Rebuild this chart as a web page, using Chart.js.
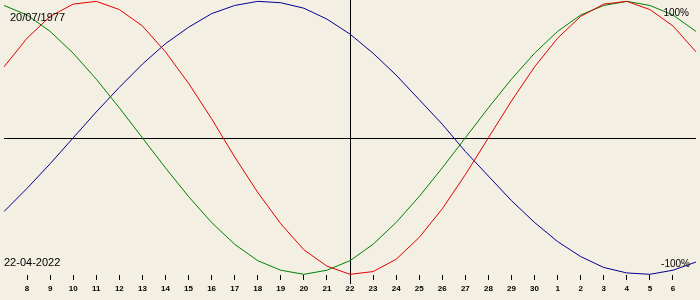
<!DOCTYPE html>
<html>
<head>
<meta charset="utf-8">
<script src="https://cdn.jsdelivr.net/npm/chart.js@4/dist/chart.umd.min.js"></script>
<style>
    html, body { margin: 0; padding: 0; background: #f3efe3; }
    #wrap { width: 700px; height: 300px; position: relative; }
</style>
</head>
<body>
<div id="wrap"><canvas id="bioChart"></canvas></div>
<script>

// day of month, 7 April .. 7 May (centre = 22 April)
const days = ['7', '8', '9', '10', '11', '12', '13', '14', '15', '16', '17', '18', '19', '20', '21',
    '22', '23', '24', '25', '26', '27', '28', '29', '30', '1', '2', '3', '4', '5', '6', '7'];

// values in %
const physical = [52, 73, 89, 98, 100, 94, 82, 63, 40, 14, -14, -40, -63, -82, -94,
    -100, -98, -89, -73, -52, -27, 0, 27, 52, 73, 89, 98, 100, 94, 82, 63];

const emotional = [97, 90, 78, 62, 43, 22, 0, -22, -43, -62, -78, -90, -97, -100, -97,
    -90, -78, -62, -43, -22, 0, 22, 43, 62, 78, 90, 97, 100, 97, 90, 78];

const intellectual = [-54, -37, -19, 0, 19, 37, 54, 69, 81, 91, 97, 100, 99, 95, 87,
    76, 62, 46, 28, 10, -10, -28, -46, -62, -76, -87, -95, -99, -100, -97, -91];

const birthDate = '20/07/1977';
const todayDate = '22-04-2022';
const todayIndex = 15;
const lastIndex = days.length - 1;


const overlay = {
    id: 'overlay',
    beforeDatasetsDraw(chart) {
        const { ctx, chartArea, scales } = chart;
        const x0 = Math.round(scales.x.getPixelForValue(todayIndex)) + 0.5;
        const y0 = Math.round(scales.y.getPixelForValue(0)) + 0.5;

        ctx.save();
        ctx.strokeStyle = '#000';
        ctx.lineWidth = 1;
        ctx.beginPath();
        ctx.moveTo(chartArea.left, y0);
        ctx.lineTo(chartArea.right, y0);
        ctx.moveTo(x0, chartArea.top);
        ctx.lineTo(x0, chartArea.bottom + 9);
        ctx.stroke();
        ctx.restore();
    },
    afterDraw(chart) {
        const { ctx, chartArea } = chart;

        ctx.save();
        ctx.fillStyle = '#000';
        ctx.font = '11px "Liberation Sans"';
        ctx.textAlign = 'left';
        ctx.textBaseline = 'alphabetic';
        ctx.fillText(birthDate, 10, 21);
        ctx.fillText(todayDate, 4, 266);

        ctx.textAlign = 'right';
        ctx.font = '10px "Liberation Sans"';
        ctx.fillText('100%', chartArea.right - 7, 16);
        ctx.fillText('-100%', chartArea.right - 6, 267);
        ctx.restore();
    }
};


new Chart(document.getElementById('bioChart'), {

    type: 'line',

    data: {
        labels: days,
        datasets: [
            { label: 'Physical', data: physical, borderColor: '#e00000' },
            { label: 'Emotional', data: emotional, borderColor: '#008000' },
            { label: 'Intellectual', data: intellectual, borderColor: '#000090' }
        ]
    },

    options: {
        responsive: true,
        maintainAspectRatio: false,
        animation: false,
        devicePixelRatio: 1,
        layout: { padding: 0 },
        elements: {
            line: { borderWidth: 1, tension: 0, fill: false },
            point: { radius: 0 }
        },
        plugins: {
            legend: { display: false },
            tooltip: { enabled: false }
        },
        scales: {
            x: {
                type: 'category',
                offset: false,
                border: { display: false },
                grid: {
                    drawOnChartArea: false,
                    drawTicks: true,
                    tickLength: 5,
                    tickColor: c => (c.index === 0 || c.index === lastIndex) ? 'rgba(0,0,0,0)' : '#000'
                },
                ticks: {
                    autoSkip: false,
                    maxRotation: 0,
                    padding: 4,
                    color: '#000',
                    font: { family: 'Liberation Sans', size: 8, weight: 'bold' },
                    callback: function (v, i) {
                        return (i === 0 || i === lastIndex) ? '' : days[i];
                    }
                },
                afterFit: s => { s.height = 25; }
            },
            y: {
                display: false,
                min: -100.5,
                max: 101
            }
        }
    },

    plugins: [overlay]

});

</script>
</body>
</html>
